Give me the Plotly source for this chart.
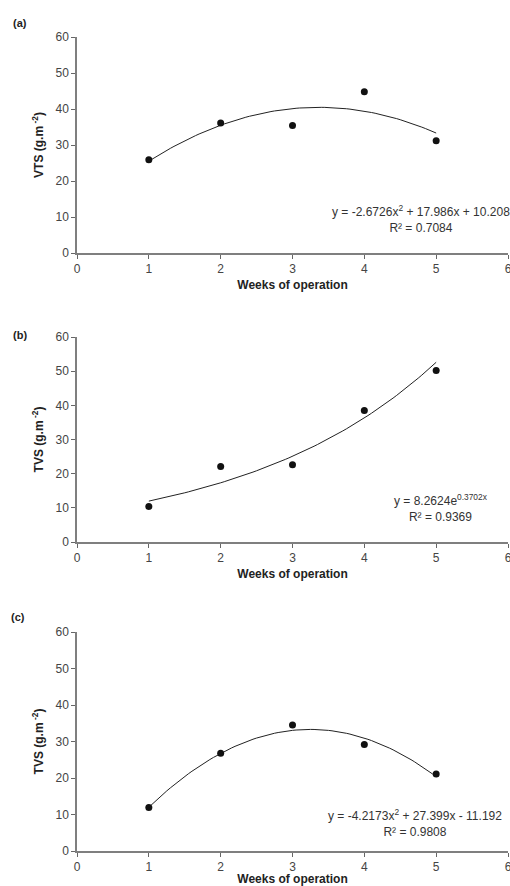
import numpy as np
import plotly.graph_objects as go

weeks = [1, 2, 3, 4, 5]
vts_a = [25.9, 36.1, 35.4, 44.8, 31.2]
tvs_b = [10.4, 22.1, 22.6, 38.5, 50.2]
tvs_c = [11.9, 26.8, 34.5, 29.2, 21.1]

# displayed trendline coefficients
poly_a = [-2.6726, 17.986, 10.208]
exp_b = [8.2624, 0.3702]
poly_c = [-4.2173, 27.399, -11.192]

eq_a = "y = -2.6726x<sup>2</sup> + 17.986x + 10.208<br>R² = 0.7084"
eq_b = "y = 8.2624e<sup>0.3702x</sup><br>R² = 0.9369"
eq_c = "y = -4.2173x<sup>2</sup> + 27.399x - 11.192<br>R² = 0.9808"

panel_labels = ["(a)", "(b)", "(c)"]
y_titles = ["VTS (g.m<sup> -2</sup>)", "TVS (g.m<sup> -2</sup>)", "TVS (g.m<sup> -2</sup>)"]
x_title = "Weeks of operation"
x_ticks = [0, 1, 2, 3, 4, 5, 6]
y_ticks = [0, 10, 20, 30, 40, 50, 60]

W, H = 510, 886
FONT = "Liberation Sans, Arial, sans-serif"

xt = np.linspace(1, 5, 81)
curves = [
    np.polyval(poly_a, xt),
    exp_b[0] * np.exp(exp_b[1] * xt),
    np.polyval(poly_c, xt),
]
series = [vts_a, tvs_b, tvs_c]
eqs = [eq_a, eq_b, eq_c]

# pixel layout (top, bottom) of each plot area, in page pixels
rows = [(37, 253), (337, 542), (632, 851)]
x0px, x1px = 77, 508
eq_pos = [(421, 219), (441, 508), (415, 823)]
lab_pos = [(20, 23), (20, 335), (18, 617)]


def px_x(p):
    return p / W


def px_y(p):
    return 1 - p / H


fig = go.Figure()
for i in range(3):
    n = i + 1
    xa = "x" if i == 0 else f"x{n}"
    ya = "y" if i == 0 else f"y{n}"
    fig.add_trace(go.Scatter(x=xt, y=curves[i], mode="lines",
                             line=dict(color="#222222", width=1),
                             xaxis=xa, yaxis=ya, showlegend=False, hoverinfo="skip"))
    fig.add_trace(go.Scatter(x=weeks, y=series[i], mode="markers",
                             marker=dict(color="#111111", size=7),
                             xaxis=xa, yaxis=ya, showlegend=False))
    top, bot = rows[i]
    xdom = [px_x(x0px), px_x(x1px)]
    ydom = [px_y(bot), px_y(top)]
    axis_common = dict(showgrid=False, zeroline=False, showline=True, automargin=False,
                       linecolor="#7f7f7f", linewidth=1.5, ticklabeloverflow="allow",
                       ticks="outside", ticklen=4, tickcolor="#666666", tickwidth=1,
                       tickfont=dict(family=FONT, size=12, color="#444444"))
    inner_common = dict(showgrid=False, zeroline=False, showline=False, automargin=False,
                        ticks="inside", ticklen=4, tickcolor="#666666", tickwidth=1,
                        showticklabels=False)
    xkey = "xaxis" if i == 0 else f"xaxis{n}"
    ykey = "yaxis" if i == 0 else f"yaxis{n}"
    fig.update_layout(**{
        xkey: dict(axis_common, domain=xdom, range=[0, 6],
                   tickvals=x_ticks, anchor=ya,
                   title=dict(text=f"<b>{x_title}</b>", standoff=5,
                              font=dict(family=FONT, size=12, color="#222222"))),
        ykey: dict(axis_common, domain=ydom, range=[0, 60],
                   tickvals=y_ticks, anchor=xa,
                   title=dict(text=f"<b>{y_titles[i]}</b>", standoff=9,
                              font=dict(family=FONT, size=12, color="#222222"))),
        f"xaxis{n + 3}": dict(inner_common, domain=xdom, range=[0, 6], tickvals=x_ticks,
                              overlaying=xa, anchor=ya),
        f"yaxis{n + 3}": dict(inner_common, domain=ydom, range=[0, 60], tickvals=y_ticks,
                              overlaying=ya, anchor=xa),
    })
    ex, ey = eq_pos[i]
    fig.add_annotation(x=px_x(ex), y=px_y(ey), xref="paper", yref="paper",
                       xanchor="center", yanchor="middle",
                       text=eqs[i], showarrow=False, align="center",
                       font=dict(family=FONT, size=12, color="#333333"))
    lx, ly = lab_pos[i]
    fig.add_annotation(x=px_x(lx), y=px_y(ly), xref="paper", yref="paper",
                       xanchor="center", yanchor="middle",
                       text=f"<b>{panel_labels[i]}</b>", showarrow=False,
                       font=dict(family=FONT, size=11, color="#222222"))

fig.update_layout(width=W, height=H, margin=dict(l=0, r=0, t=0, b=0),
                  paper_bgcolor="white", plot_bgcolor="white")
fig.write_html(
    "out.html",
    config={"displayModeBar": False},
    post_script="document.body.style.margin='0';document.body.style.overflow='hidden';",
)
